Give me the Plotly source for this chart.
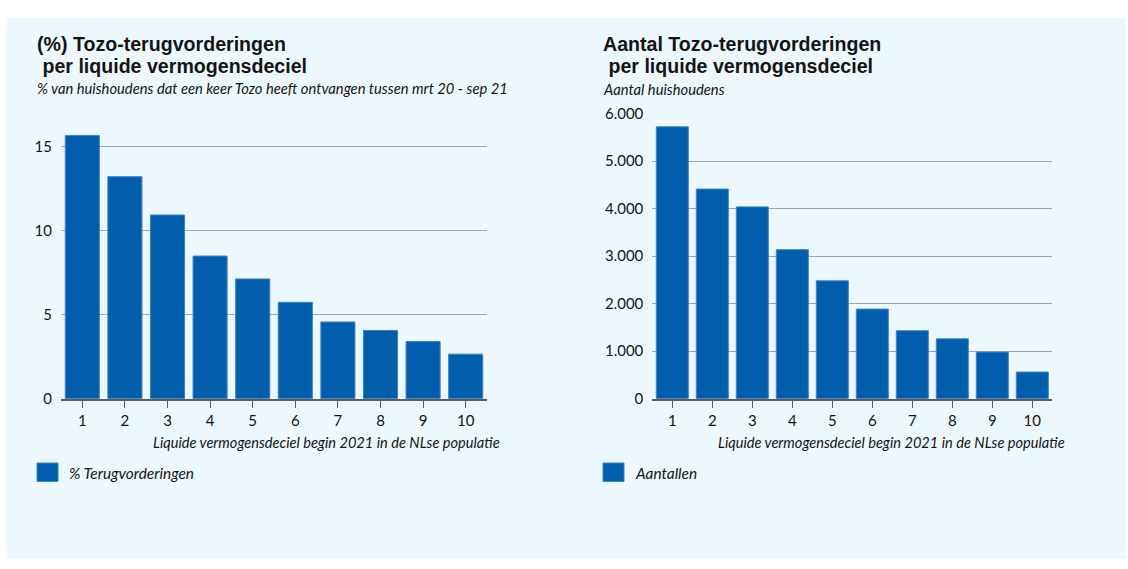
import plotly.graph_objects as go

# ---------------- data ----------------
deciles = [1, 2, 3, 4, 5, 6, 7, 8, 9, 10]
decile_labels = ["1", "2", "3", "4", "5", "6", "7", "8", "9", "10"]
pct_values = [15.65, 13.2, 10.92, 8.48, 7.12, 5.73, 4.56, 4.06, 3.40, 2.65]
count_values = [5720, 4410, 4035, 3135, 2480, 1885, 1430, 1260, 980, 560]
pct_ticks = [0, 5, 10, 15]
count_ticks = [0, 1000, 2000, 3000, 4000, 5000, 6000]

left_title = ["(%) Tozo-terugvorderingen", "\u00a0per liquide vermogensdeciel"]
left_subtitle = "% van huishoudens dat een keer Tozo heeft ontvangen tussen mrt 20 - sep 21"
right_title = ["Aantal Tozo-terugvorderingen", "\u00a0per liquide vermogensdeciel"]
right_subtitle = "Aantal huishoudens"
x_title = "Liquide vermogensdeciel begin 2021 in de NLse populatie"
left_legend = "% Terugvorderingen"
right_legend = "Aantallen"

# ---------------- style ----------------
W, H = 1128, 569
FONT = "Lato, 'Noto Sans', sans-serif"
TITLE_FONT = "'Liberation Sans', Arial, sans-serif"
BAR = "#005EAD"
BAR_EDGE = "#3b82c8"
GRID = "#9ea7ae"
AXIS = "#5c5c5c"
TXT = "#141414"
PANEL = "#EDF7FE"
TITLE_SIZE = 19.6
TITLE_LINE = 22.4  # px between title baselines


def px(x):
    return x / W


def py(y):
    return 1 - y / H


fig = go.Figure()

fig.add_trace(go.Bar(x=deciles, y=pct_values, marker=dict(color=BAR, line=dict(color=BAR_EDGE, width=1)),
                     xaxis="x", yaxis="y", showlegend=False, name=left_legend))
fig.add_trace(go.Bar(x=deciles, y=count_values, marker=dict(color=BAR, line=dict(color=BAR_EDGE, width=1)),
                     xaxis="x2", yaxis="y2", showlegend=False, name=right_legend))

base_px = 401.7
left_top = 124.3
right_top = 107.2

xcommon = dict(range=[0.5, 10.5], tickmode="array", tickvals=deciles, ticktext=decile_labels,
               showgrid=False, zeroline=False, showline=True, linecolor=AXIS, linewidth=2,
               ticks="outside", ticklen=7, tickcolor=AXIS, tickwidth=1,
               tickfont=dict(family=FONT, size=15, color=TXT), fixedrange=True)
ycommon = dict(showgrid=True, gridcolor=GRID, gridwidth=1, zeroline=False, showline=False,
               ticks="", tickfont=dict(family=FONT, size=15, color=TXT), ticklabelstandoff=8,
               fixedrange=True)

fig.update_layout(
    width=W, height=H,
    margin=dict(l=0, r=0, t=0, b=0),
    paper_bgcolor="white",
    plot_bgcolor="rgba(0,0,0,0)",
    separators=",.",
    bargap=0.2,
    hovermode=False,
    font=dict(family=FONT, color=TXT),
    xaxis=dict(domain=[px(61), px(487)], anchor="y", **xcommon),
    yaxis=dict(domain=[py(base_px), py(left_top)], anchor="x", range=[0, 16],
               tickmode="array", tickvals=pct_ticks, **ycommon),
    xaxis2=dict(domain=[px(652.3), px(1052.3)], anchor="y2", **xcommon),
    yaxis2=dict(domain=[py(base_px), py(right_top)], anchor="x2", range=[0, 6010],
                tickmode="array", tickvals=count_ticks, tickformat=",d", **ycommon),
)

# background panel
fig.add_shape(type="rect", xref="paper", yref="paper", x0=px(6), x1=px(1126), y0=py(567), y1=py(9),
              fillcolor=PANEL, line=dict(width=0), layer="below")


def text(x, y, s, size, bold=False, italic=False, xanchor="left", family=FONT):
    if bold:
        s = "<b>" + s + "</b>"
    if italic:
        s = "<i>" + s + "</i>"
    fig.add_annotation(x=px(x), y=py(y), xref="paper", yref="paper", text=s, showarrow=False,
                       xanchor=xanchor, yanchor="middle", align="left",
                       font=dict(family=family, size=size, color=TXT), borderpad=0)


def title(x, y, lines):
    # base font sets the line spacing (1.3 x size); spans set the glyph size
    s = "<br>".join("<span style='font-size:%.1fpx'><b>%s</b></span>" % (TITLE_SIZE, ln) for ln in lines)
    text(x, y, s, TITLE_LINE / 1.3, family=TITLE_FONT)


# titles
title(36, 47, left_title)
text(36, 81.5, left_subtitle, 14.75, italic=True)
title(602, 47, right_title)
text(602, 82.5, right_subtitle, 14.75, italic=True)

# axis titles
text(501, 447, x_title, 14.6, italic=True, xanchor="right")
text(1066, 447, x_title, 14.6, italic=True, xanchor="right")

# legends
for sx, tx, label in [(37, 68, left_legend), (603, 634, right_legend)]:
    fig.add_shape(type="rect", xref="paper", yref="paper", x0=px(sx), x1=px(sx + 21), y0=py(487), y1=py(468),
                  fillcolor=BAR, line=dict(color=BAR_EDGE, width=1))
    text(tx, 478, label, 15.4, italic=True)

post = (
    "var de=document.documentElement, b=document.body;"
    "de.style.margin='0';de.style.padding='0';de.style.overflow='hidden';"
    "b.style.margin='0';b.style.padding='0';b.style.overflow='hidden';"
    "var g=document.getElementsByClassName('plotly-graph-div')[0];"
    "if(g){g.style.position='fixed';g.style.left='0';g.style.top='0';}"
)
fig.write_html("out.html", config={"displayModeBar": False, "staticPlot": True}, post_script=post)
